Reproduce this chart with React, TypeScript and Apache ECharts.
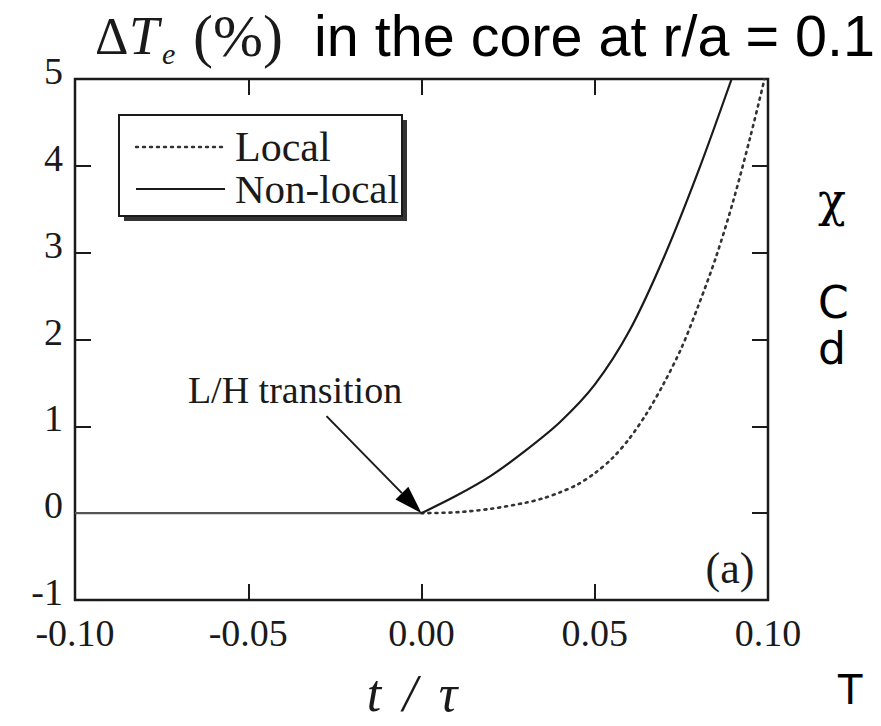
import React, { useEffect, useRef } from "react";
import * as echarts from "echarts";

// Before the transition both models stay flat
const tFlat = [-0.1, 0];
const vFlat = [0, 0];
// Non-local curve (solid)
const tNonLocal = [0, 0.01, 0.02, 0.03, 0.04, 0.05, 0.06, 0.07, 0.08, 0.0895];
const vNonLocal = [0, 0.2, 0.43, 0.72, 1.05, 1.48, 2.1, 2.95, 3.95, 5.0];
// Local curve (dotted)
const tLocal = [0, 0.01, 0.02, 0.03, 0.035, 0.04, 0.045, 0.05, 0.055, 0.06, 0.065, 0.07, 0.075, 0.08, 0.085, 0.09, 0.095, 0.099];
const vLocal = [0, 0.01, 0.05, 0.12, 0.17, 0.24, 0.33, 0.46, 0.63, 0.86, 1.15, 1.5, 1.9, 2.4, 2.95, 3.6, 4.35, 5.0];

const xMin = -0.1;
const xMax = 0.1;
const xStep = 0.05;
const yMin = -1;
const yMax = 5;
const yStep = 1;

const legendNames = ["Local", "Non-local"];
const annotation = "L/H transition";
const arrowTip = [0, 0];

const SERIF = "'Liberation Serif', 'Times New Roman', serif";
const SANS = "'Liberation Sans', Arial, sans-serif";
const INK = "#1a1a1a";

export default function App() {
  const ref = useRef<HTMLDivElement>(null);
  useEffect(() => {
    if (!ref.current) return;
    const chart = echarts.init(ref.current, null, { renderer: "svg" });
    const tickCommon = {
      show: true,
      inside: true,
      length: 16,
      lineStyle: { color: INK, width: 2 },
    };
    const labelFont = { fontFamily: SERIF, fontSize: 38, color: INK };
    const hiddenLine = { show: false, onZero: false };
    chart.setOption({
      animation: false,
      backgroundColor: "#ffffff",
      grid: {
        left: 75,
        right: 113,
        top: 79,
        bottom: 126,
        show: true,
        borderColor: INK,
        borderWidth: 2.5,
        backgroundColor: "transparent",
      },
      xAxis: [
        {
          type: "value",
          min: xMin,
          max: xMax,
          interval: xStep,
          axisLine: hiddenLine,
          axisTick: tickCommon,
          splitLine: { show: false },
          axisLabel: {
            ...labelFont,
            margin: 14,
            formatter: (v: number) => v.toFixed(2),
          },
        },
        {
          type: "value",
          position: "top",
          min: xMin,
          max: xMax,
          interval: xStep,
          axisLine: hiddenLine,
          axisTick: tickCommon,
          splitLine: { show: false },
          axisLabel: { show: false },
        },
      ],
      yAxis: [
        {
          type: "value",
          min: yMin,
          max: yMax,
          interval: yStep,
          axisLine: hiddenLine,
          axisTick: tickCommon,
          splitLine: { show: false },
          axisLabel: {
            ...labelFont,
            margin: 12,
            verticalAlign: "bottom",
            lineHeight: 16,
            formatter: (v: number) => String(v),
          },
        },
        {
          type: "value",
          position: "right",
          min: yMin,
          max: yMax,
          interval: yStep,
          axisLine: hiddenLine,
          axisTick: tickCommon,
          splitLine: { show: false },
          axisLabel: { show: false },
        },
      ],
      series: [
        {
          name: "flat",
          type: "line",
          data: tFlat.map((t, i) => [t, vFlat[i]]),
          symbol: "none",
          lineStyle: { color: "#555", width: 2.4 },
          z: 2,
        },
        {
          name: legendNames[0],
          type: "line",
          data: tLocal.map((t, i) => [t, vLocal[i]]),
          symbol: "none",
          smooth: 0.3,
          lineStyle: { color: "#333", width: 2.6, type: [2, 5], cap: "round" },
          z: 2,
        },
        {
          name: legendNames[1],
          type: "line",
          data: tNonLocal.map((t, i) => [t, vNonLocal[i]]),
          symbol: "none",
          smooth: 0.3,
          lineStyle: { color: INK, width: 2.2 },
          z: 3,
        },
      ],
    });

    const tip = chart.convertToPixel({ gridIndex: 0 }, arrowTip) as number[];
    const start = [tip[0] - 95, tip[1] - 97];
    const dx = tip[0] - start[0];
    const dy = tip[1] - start[1];
    const len = Math.hypot(dx, dy);
    const ux = dx / len;
    const uy = dy / len;
    const headLen = 28;
    const headHalf = 9;
    const bx = tip[0] - ux * headLen;
    const by = tip[1] - uy * headLen;
    const px = -uy * headHalf;
    const py = ux * headHalf;

    chart.setOption({
      graphic: [
        // legend box shadow + box
        { type: "rect", shape: { x: 124, y: 120, width: 283, height: 101 }, style: { fill: "#333" }, z: 10 },
        { type: "rect", shape: { x: 119, y: 115, width: 283, height: 101 }, style: { fill: "#fff", stroke: INK, lineWidth: 2 }, z: 11 },
        { type: "line", shape: { x1: 136, y1: 147, x2: 225, y2: 147 }, style: { stroke: "#333", lineWidth: 2.4, lineDash: [2, 5], lineCap: "round" }, z: 12 },
        { type: "line", shape: { x1: 136, y1: 189, x2: 225, y2: 189 }, style: { stroke: INK, lineWidth: 2.2 }, z: 12 },
        { type: "text", x: 235, y: 147, style: { text: legendNames[0], font: `42px ${SERIF}`, fill: INK, verticalAlign: "middle" }, z: 12 },
        { type: "text", x: 235, y: 189, style: { text: legendNames[1], font: `41px ${SERIF}`, fill: INK, verticalAlign: "middle" }, z: 12 },
        // arrow
        { type: "line", shape: { x1: start[0], y1: start[1], x2: bx, y2: by }, style: { stroke: INK, lineWidth: 2 }, z: 12 },
        { type: "polygon", shape: { points: [[tip[0], tip[1]], [bx + px, by + py], [bx - px, by - py]] }, style: { fill: "#000" }, z: 12 },
        { type: "text", x: 295, y: 390, style: { text: annotation, font: `38px ${SERIF}`, fill: INK, align: "center", verticalAlign: "middle" }, z: 12 },
        // panel label
        { type: "text", x: 730, y: 568, style: { text: "(a)", font: `44px ${SERIF}`, fill: INK, align: "center", verticalAlign: "middle" }, z: 12 },
        // axis title
        { type: "text", x: 374, y: 693, style: { text: "t", font: `italic 52px ${SERIF}`, fill: INK, align: "center", verticalAlign: "middle" }, z: 12 },
        { type: "text", x: 410, y: 693, style: { text: "/", font: `italic 52px ${SERIF}`, fill: INK, align: "center", verticalAlign: "middle" }, z: 12 },
        { type: "text", x: 448, y: 693, style: { text: "τ", font: `italic 52px ${SERIF}`, fill: INK, align: "center", verticalAlign: "middle" }, z: 12 },
        // title
        { type: "text", x: 95, y: 36, style: { text: "Δ", font: `52px ${SERIF}`, fill: INK, verticalAlign: "middle" }, z: 12 },
        { type: "text", x: 129, y: 36, style: { text: "T", font: `italic 54px ${SERIF}`, fill: INK, verticalAlign: "middle" }, z: 12 },
        { type: "text", x: 162, y: 53, style: { text: "e", font: `italic 30px ${SERIF}`, fill: INK, verticalAlign: "middle" }, z: 12 },
        { type: "text", x: 193, y: 36, style: { text: "(%)", font: `60px ${SERIF}`, fill: INK, verticalAlign: "middle" }, z: 12 },
        { type: "text", x: 314, y: 36, style: { text: "in the core at r/a = 0.1", font: `57.5px ${SANS}`, fill: "#000", verticalAlign: "middle" }, z: 12 },
        // slide text fragments on the right
        { type: "text", x: 818, y: 200, style: { text: "χ", font: `46px 'DejaVu Serif', serif`, fill: "#000", verticalAlign: "middle" }, z: 12 },
        { type: "text", x: 818, y: 302, style: { text: "C", font: `44px 'DejaVu Sans', sans-serif`, fill: "#000", verticalAlign: "middle" }, z: 12 },
        { type: "text", x: 818, y: 348, style: { text: "d", font: `44px 'DejaVu Sans', sans-serif`, fill: "#000", verticalAlign: "middle" }, z: 12 },
        { type: "text", x: 838, y: 690, style: { text: "T", font: `40px 'DejaVu Sans', sans-serif`, fill: "#000", verticalAlign: "middle" }, z: 12 },
      ],
    });
    return () => chart.dispose();
  }, []);
  return <div ref={ref} style={{ width: 881, height: 726, position: "absolute", left: 0, top: 0 }} />;
}
